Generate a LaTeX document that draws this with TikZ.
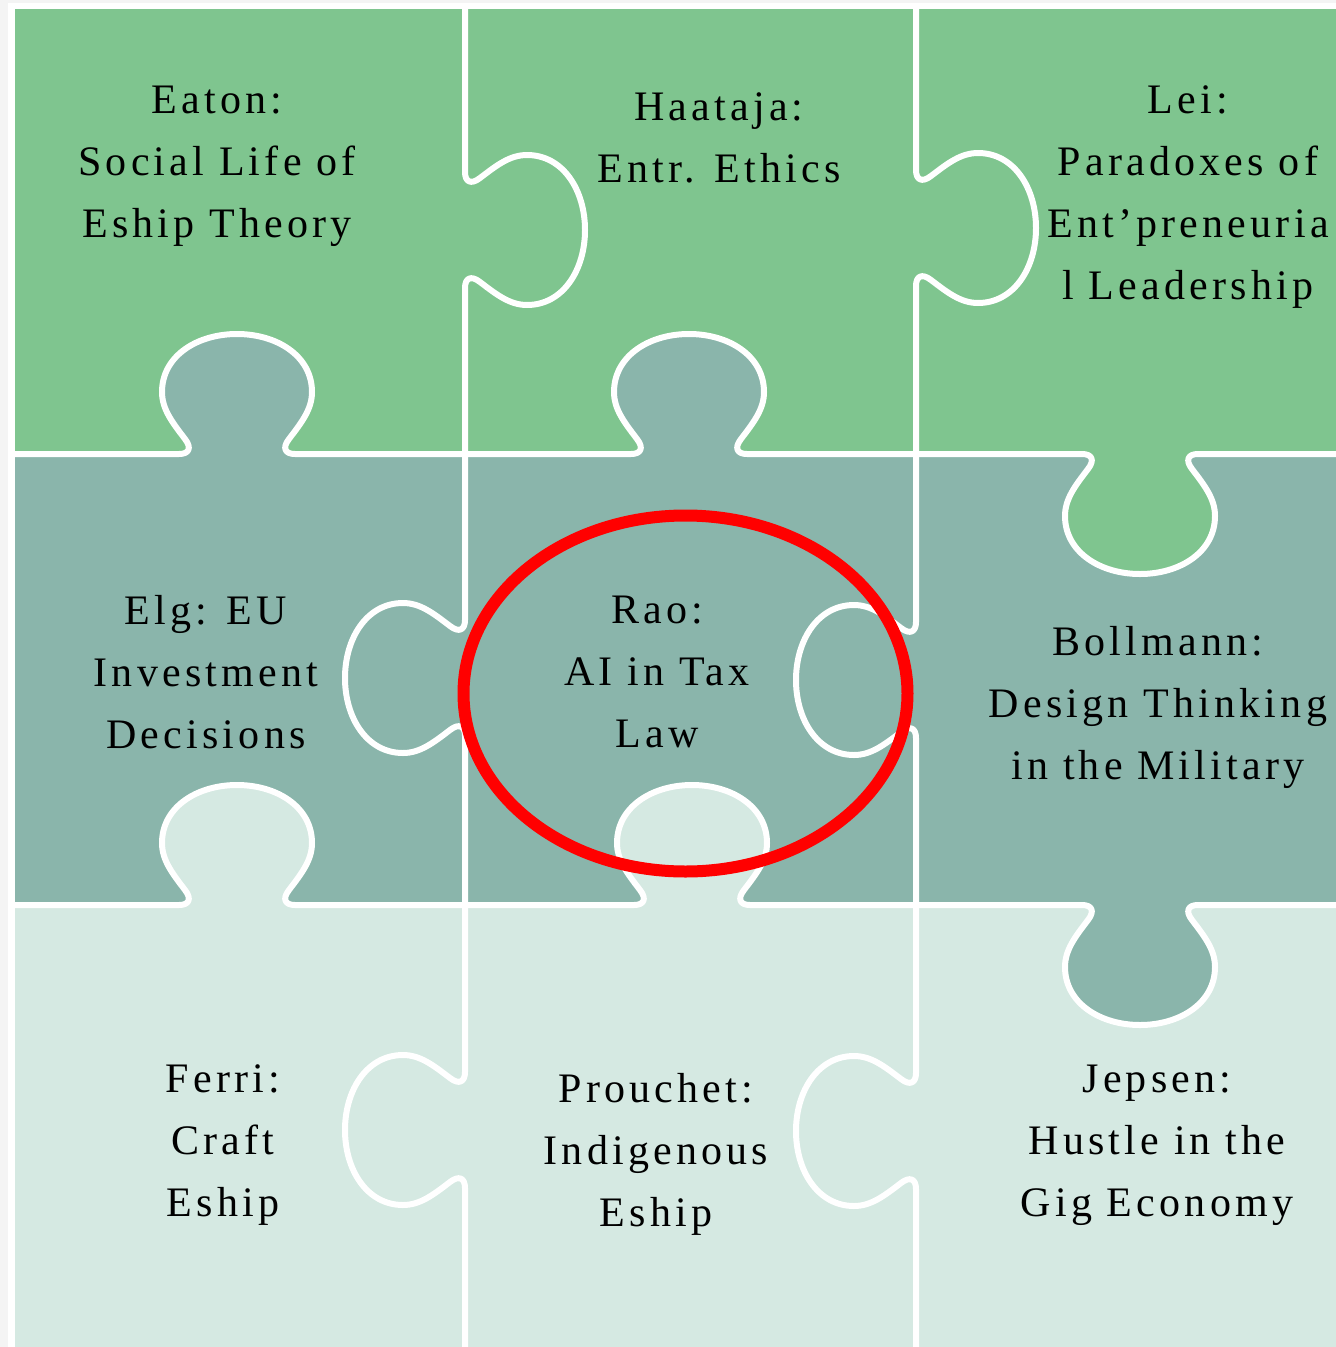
\documentclass[tikz,border=0pt]{standalone}
\usepackage{fontspec}
\setmainfont{Liberation Serif}[LetterSpace=10]
\definecolor{pgreen}{HTML}{7FC58F}
\definecolor{pteal}{HTML}{8AB5AB}
\definecolor{plight}{HTML}{D5E9E2}
\definecolor{pgray}{HTML}{F4F4F4}
% horizontal-edge tab: centre x, edge y, direction (+1 down, -1 up)
\newcommand\htabp[3]{({#1-58},{#2}) .. controls ({#1-48},{#2}) and ({#1-45},{#2+6*(#3)}) .. ({#1-52},{#2+15*(#3)}) .. controls ({#1-65},{#2+32*(#3)}) and ({#1-75},{#2+45*(#3)}) .. ({#1-75},{#2+62*(#3)}) .. controls ({#1-75},{#2+98*(#3)}) and ({#1-40},{#2+120*(#3)}) .. ({#1},{#2+120*(#3)}) .. controls ({#1+40},{#2+120*(#3)}) and ({#1+75},{#2+98*(#3)}) .. ({#1+75},{#2+62*(#3)}) .. controls ({#1+75},{#2+45*(#3)}) and ({#1+65},{#2+32*(#3)}) .. ({#1+52},{#2+15*(#3)}) .. controls ({#1+45},{#2+6*(#3)}) and ({#1+48},{#2}) .. ({#1+58},{#2})}
% vertical-edge tab: edge x, centre y, direction (+1 right, -1 left)
\newcommand\vtabp[3]{({#1},{#2-58}) .. controls ({#1},{#2-48}) and ({#1+6*(#3)},{#2-45}) .. ({#1+15*(#3)},{#2-52}) .. controls ({#1+32*(#3)},{#2-65}) and ({#1+45*(#3)},{#2-75}) .. ({#1+62*(#3)},{#2-75}) .. controls ({#1+98*(#3)},{#2-75}) and ({#1+120*(#3)},{#2-40}) .. ({#1+120*(#3)},{#2}) .. controls ({#1+120*(#3)},{#2+40}) and ({#1+98*(#3)},{#2+75}) .. ({#1+62*(#3)},{#2+75}) .. controls ({#1+45*(#3)},{#2+75}) and ({#1+32*(#3)},{#2+65}) .. ({#1+15*(#3)},{#2+52}) .. controls ({#1+6*(#3)},{#2+45}) and ({#1},{#2+48}) .. ({#1},{#2+58})}
\tikzset{
  edge/.style={draw=white, line width=6pt, line join=round, line cap=round},
  lbl/.style={align=center, anchor=base, inner sep=0pt, text=black,
    font=\fontsize{42}{62}\selectfont},
  ring/.style={draw=red, line width=12pt}
}
\begin{document}
\begin{tikzpicture}[x=1pt,y=-1pt]
\useasboundingbox (0,0) rectangle (1336,1347);
\fill[white] (0,0) rectangle (1336,1347);
\fill[pgray] (0,0) rectangle (8,1347);
\fill[pgray] (0,0) rectangle (1336,3);
% rows
\fill[pgreen] (15,9) rectangle (1336,454);
\fill[pteal] (15,454) rectangle (1336,905);
\fill[plight] (15,905) rectangle (1336,1347);
% protruding tabs between rows
\fill[pteal] \htabp{237}{454}{-1} -- cycle;
\fill[pteal] \htabp{689}{454}{-1} -- cycle;
\fill[pgreen] \htabp{1140}{454}{1} -- cycle;
\fill[plight] \htabp{237}{905}{-1} -- cycle;
\fill[plight] \htabp{692}{905}{-1} -- cycle;
\fill[pteal] \htabp{1140}{905}{1} -- cycle;
% white piece edges
\draw[edge] (15,454) -- \htabp{237}{454}{-1} -- \htabp{689}{454}{-1} -- \htabp{1140}{454}{1} -- (1345,454);
\draw[edge] (15,905) -- \htabp{237}{905}{-1} -- \htabp{692}{905}{-1} -- \htabp{1140}{905}{1} -- (1345,905);
\draw[edge] (465,9) -- \vtabp{465}{230}{1} -- \vtabp{465}{678}{-1} -- \vtabp{465}{1130}{-1} -- (465,1355);
\draw[edge] (916,9) -- \vtabp{916}{228}{1} -- \vtabp{916}{680}{-1} -- \vtabp{916}{1131}{-1} -- (916,1355);
% labels (anchor = baseline of the last line)
\node[lbl] (eaton) at (217,237) {Eaton:\\Social Life of\\Eship Theory};
\node[lbl] (haataja) at (719,182) {Haataja:\\Entr. Ethics};
\node[lbl] (lei) at (1188,299) {Lei:\\Paradoxes of\\Ent’preneuria\\l Leadership};
\node[lbl] (elg) at (206,748) {Elg: EU\\Investment\\Decisions};
\node[lbl] (rao) at (657,747) {Rao:\\AI in Tax\\Law};
\node[lbl] (bollmann) at (1158,779) {Bollmann:\\Design Thinking\\in the Military};
\node[lbl] (ferri) at (223,1216) {Ferri:\\Craft\\Eship};
\node[lbl] (prouchet) at (656,1226) {Prouchet:\\Indigenous\\Eship};
\node[lbl] (jepsen) at (1157,1216) {Jepsen:\\Hustle in the\\Gig Economy};
% highlight ring
\draw[ring] (685.5,693.5) ellipse [x radius=222, y radius=178];
\end{tikzpicture}
\end{document}
